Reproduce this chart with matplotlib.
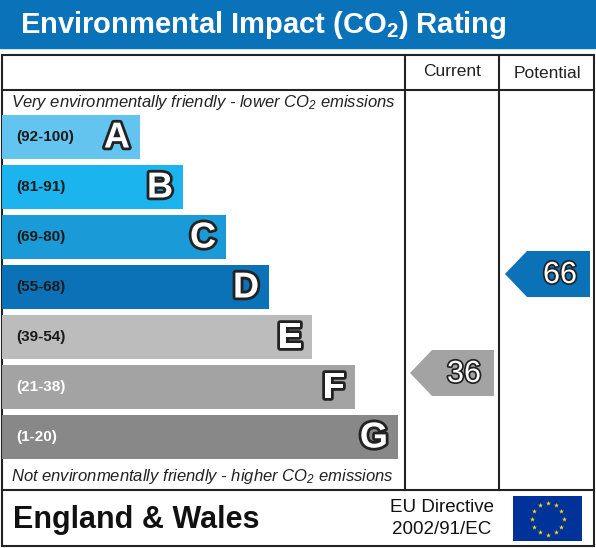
import matplotlib
matplotlib.use("Agg")
import matplotlib.pyplot as plt
from matplotlib.patches import Rectangle, Polygon
import matplotlib.patheffects as pe
import numpy as np

plt.rcParams["font.family"] = ["Liberation Sans"]
plt.rcParams["mathtext.default"] = "regular"

letters = ["A", "B", "C", "D", "E", "F", "G"]
ranges = ["(92-100)", "(81-91)", "(69-80)", "(55-68)", "(39-54)", "(21-38)", "(1-20)"]
lows = [92, 81, 69, 55, 39, 21, 1]
colors = ["#63c5ef", "#1cb4ef", "#1a9ad6", "#0b72b8", "#bcbcbc", "#a3a3a3", "#888888"]
range_txt_col = ["#1a1a1a", "#1a1a1a", "#1a1a1a", "#1a1a1a", "#1a1a1a", "white", "white"]
current = 36
potential = 66

fig = plt.figure(figsize=(5.96, 5.48), dpi=100)
ax = fig.add_axes([0, 0, 1, 1])
ax.set_xlim(0, 596); ax.set_ylim(548, 0); ax.axis("off")

ax.add_patch(Rectangle((0, 0), 596, 48, color="#0a72b9"))
ax.text(20, 25, "Environmental Impact (CO$_2$) Rating", color="white", fontsize=21,
        fontweight="bold", va="center", ha="left")

lw = 1.5
ax.add_patch(Rectangle((2, 55), 592, 491, fill=False, ec="#222", lw=lw))
ax.plot([2, 594], [90, 90], color="#222", lw=lw)
ax.plot([2, 594], [490, 490], color="#222", lw=lw)
ax.plot([405, 405], [55, 490], color="#222", lw=lw)
ax.plot([499, 499], [55, 490], color="#222", lw=lw)
ax.text(452, 72, "Current", ha="center", va="center", fontsize=12.5, color="#222")
ax.text(547, 73, "Potential", ha="center", va="center", fontsize=12.5, color="#222")
ax.text(11, 102, "Very environmentally friendly - lower CO$_2$ emissions", fontsize=12, style="italic",
        va="center", color="#222")
ax.text(11, 476, "Not environmentally friendly - higher CO$_2$ emissions", fontsize=12, style="italic",
        va="center", color="#222")

outline = [pe.withStroke(linewidth=4, foreground="#222")]
tops = []
for i, (L, r, c, tc) in enumerate(zip(letters, ranges, colors, range_txt_col)):
    top = 115 + i * 50
    tops.append(top)
    right = 140 + i * 43
    ax.add_patch(Rectangle((2, top), right - 2, 44, color=c, lw=0))
    ax.text(16, top + 22, r, fontsize=11, fontweight="bold", color=tc, va="center")
    ax.text(right - 10, top + 23, L, fontsize=26, fontweight="bold", color="white", va="center",
            ha="right", path_effects=outline)

def band(v):
    for i, lo in enumerate(lows):
        if v >= lo:
            return i
    return 6

def arrow(v, x0, x1, top):
    i = band(v)
    h = 46
    poly = [(x0, top + h / 2), (x0 + 22, top), (x1, top), (x1, top + h), (x0 + 22, top + h)]
    ax.add_patch(Polygon(poly, color=colors[i], lw=0))
    ax.text(x1 - 13, top + h / 2 + 1, str(v), fontsize=22, color="white", ha="right", va="center",
            path_effects=[pe.withStroke(linewidth=2.5, foreground="#222")])

arrow(current, 410, 494, tops[band(current)] - 15)
arrow(potential, 505, 590, tops[band(potential)] - 14)

ax.text(13, 520, "England & Wales", fontsize=22, fontweight="bold", va="center", color="#111")
ax.text(442, 508, "EU Directive", fontsize=13.5, ha="center", va="center", color="#111")
ax.text(442, 530, "2002/91/EC", fontsize=13.5, ha="center", va="center", color="#111")
ax.add_patch(Rectangle((513, 496), 69, 45, color="#003399", lw=0))
ang = np.linspace(0, 2 * np.pi, 13)[:-1]
ax.scatter(547.5 + 16 * np.cos(ang), 518.5 + 16 * np.sin(ang), marker="*", s=14, color="#ffdd00", lw=0)

fig.savefig("out.png", dpi=100)
